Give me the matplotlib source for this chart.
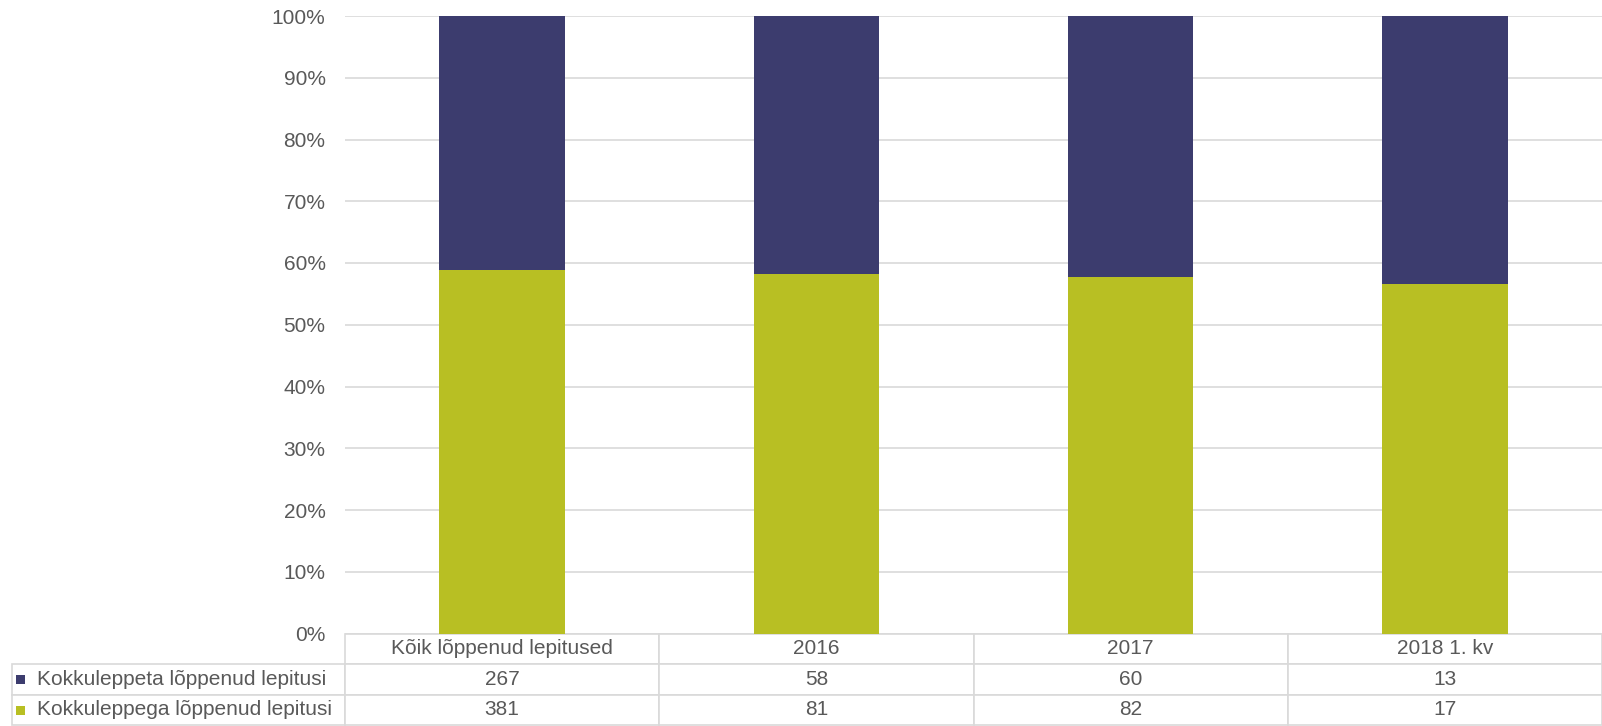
import matplotlib.pyplot as plt
import matplotlib.ticker as tick
from matplotlib.table import Table
from matplotlib.patches import Rectangle
import numpy as np

plt.rcParams['font.family'] = ['Liberation Sans', 'DejaVu Sans']

categories = ["Kõik lõppenud lepitused", "2016", "2017", "2018 1. kv"]
series_names = ["Kokkuleppeta lõppenud lepitusi", "Kokkuleppega lõppenud lepitusi"]
without_agreement = [267, 58, 60, 13]
with_agreement = [381, 81, 82, 17]

NAVY = '#3c3c6e'
GREEN = '#b8bf23'
GRID = '#d9d9d9'
TEXT = '#595959'
FS = 15

W, H = 1602, 726


def main():
    fig = plt.figure(figsize=(W / 100, H / 100), dpi=100)
    left, right, top, bottom = 345, 1602, 16, 633.5
    ax = fig.add_axes([left / W, 1 - bottom / H, (right - left) / W, (bottom - top) / H])

    wo = np.array(without_agreement, dtype=float)
    wi = np.array(with_agreement, dtype=float)
    tot = wo + wi
    x = np.arange(len(categories))

    ax.bar(x, wi / tot, width=0.4, color=GREEN, zorder=2)
    ax.bar(x, wo / tot, bottom=wi / tot, width=0.4, color=NAVY, zorder=2)

    ax.set_xlim(-0.5, len(categories) - 0.5)
    ax.set_ylim(0, 1)
    ax.set_yticks(np.linspace(0, 1, 11))
    ax.yaxis.set_major_formatter(tick.FuncFormatter(lambda v, pos: f'{v * 100:.0f}%'))
    ax.tick_params(axis='y', length=0, labelsize=FS, labelcolor=TEXT, pad=14)
    ax.set_xticks([])
    ax.grid(axis='y', color=GRID, lw=1.2, zorder=0)
    for s in ax.spines.values():
        s.set_visible(False)

    # data table under the bars
    tab_left, tab_bottom = 12, 725
    px_w = right - left
    px_h = bottom - top
    bbox = [(tab_left - left) / px_w, -(tab_bottom - bottom) / px_h,
            (right - tab_left) / px_w, (tab_bottom - bottom) / px_h]
    tb = Table(ax, bbox=bbox)
    label_w = left - tab_left
    col_w = px_w / len(categories)
    rows = [None, without_agreement, with_agreement]
    for r in range(3):
        for c in range(len(categories) + 1):
            w = label_w if c == 0 else col_w
            if r == 0:
                txt = '' if c == 0 else categories[c - 1]
            else:
                txt = series_names[r - 1] if c == 0 else str(rows[r][c - 1])
            cell = tb.add_cell(r, c, width=w, height=1, text=txt,
                               loc='left' if c == 0 else 'center')
            cell.set_edgecolor(GRID)
            cell.set_linewidth(1.2)
            cell.PAD = 25 / label_w if c == 0 else 0.0
            cell.get_text().set_color(TEXT)
            cell.get_text().set_fontsize(FS)
            if r == 0 and c == 0:
                cell.visible_edges = ''
    tb.auto_set_font_size(False)
    ax.add_table(tb)

    # legend keys inside the row label cells
    row_h = (tab_bottom - bottom) / 3
    for i, col in enumerate([NAVY, GREEN]):
        yc = bottom + row_h * (i + 1.5)
        fig.add_artist(Rectangle((16 / W, 1 - (yc + 5) / H), 9 / W, 9 / H,
                                 transform=fig.transFigure, color=col, lw=0))

    fig.savefig('out.png', dpi=100)


if __name__ == "__main__":
    main()
